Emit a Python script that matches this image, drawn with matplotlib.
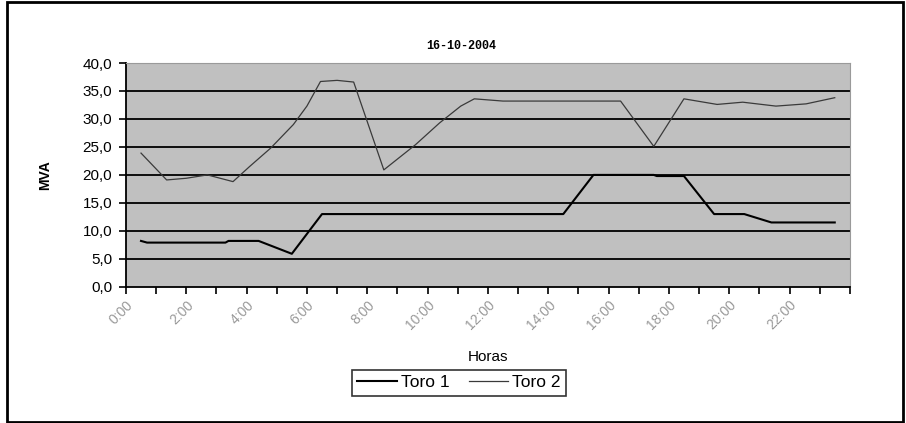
import matplotlib
matplotlib.use("Agg")
import matplotlib.pyplot as plt
from matplotlib.patches import Rectangle

plt.rcParams['font.family'] = ['Liberation Sans', 'DejaVu Sans']

# hours (category index, 0 = 0:00) and MVA values
toro1_h = [0, 0.2, 2.8, 2.9, 3.9, 5.0, 6.0, 14.0, 15.0, 17.0, 17.1, 18.0, 19.0, 20.0, 20.9, 23.0]
toro1_v = [8.2, 7.9, 7.9, 8.2, 8.2, 5.9, 13.0, 13.0, 20.0, 20.0, 19.8, 19.8, 13.0, 13.0, 11.5, 11.5]

toro2_h = [0, 0.85, 1.5, 2.2, 3.05, 3.6, 4.3, 5.05, 5.5, 5.95, 6.5, 7.05, 8.05, 9.1, 9.9,
           10.6, 11.05, 12.0, 15.9, 17.0, 18.0, 19.1, 19.95, 21.05, 22.05, 23.0]
toro2_v = [23.9, 19.1, 19.4, 20.0, 18.8, 21.5, 24.8, 29.0, 32.3, 36.7, 36.9, 36.6, 20.9, 25.4, 29.3,
           32.3, 33.6, 33.2, 33.2, 25.1, 33.6, 32.6, 33.0, 32.3, 32.7, 33.8]

n_hours = 24
hour_labels = ["%d:00" % h if h % 2 == 0 else "" for h in range(n_hours)]
y_ticks = [0, 5, 10, 15, 20, 25, 30, 35, 40]

fig = plt.figure(figsize=(9.06, 4.23), dpi=100)
ax = fig.add_axes([0.139, 0.322, 0.799, 0.529])
ax.set_facecolor('#c0c0c0')

for y in y_ticks[1:-1]:
    ax.axhline(y, color='black', lw=1.3, zorder=1)

ax.plot(toro1_h, toro1_v, color='black', lw=1.5, label='Toro 1', zorder=3)
ax.plot(toro2_h, toro2_v, color='#3a3a3a', lw=0.9, label='Toro 2', zorder=3)

ax.set_xlim(-0.5, n_hours - 0.5)
ax.set_ylim(0, 40)
ax.set_yticks(y_ticks)
ax.set_yticklabels([("%.1f" % v).replace('.', ',') for v in y_ticks])
ax.set_xticks([h - 0.5 for h in range(n_hours + 1)])
ax.set_xticklabels(hour_labels + [""], rotation=45, ha='right', va='top',
                   rotation_mode='anchor', color='#999999', fontsize=10)

ax.tick_params(axis='y', labelsize=11, length=5, width=1.2, direction='out', pad=5)
ax.tick_params(axis='x', length=5, width=1.2, direction='out', pad=3)
for s in ['top', 'right']:
    ax.spines[s].set_color('#9a9a9a')
for s in ['left', 'bottom']:
    ax.spines[s].set_color('black')
    ax.spines[s].set_linewidth(1.3)

ax.set_title("16-10-2004", fontsize=8.5, fontweight='bold', family='Liberation Mono',
             x=0.463, pad=10)
ax.set_ylabel("MVA", fontsize=10, fontweight='bold')
ax.yaxis.set_label_coords(-0.102, 0.5)
ax.set_xlabel("Horas", fontsize=11)
ax.xaxis.set_label_coords(0.5, -0.283)

leg = ax.legend(loc='upper center', bbox_to_anchor=(0.46, -0.372), ncol=2, frameon=True,
                fancybox=False, edgecolor='black', fontsize=12.5, handlelength=2.3,
                handletextpad=0.2, columnspacing=1.1, borderpad=0.3, borderaxespad=0)
leg.get_frame().set_linewidth(1.2)

fig.patches.append(Rectangle((7 / 906, 1 / 423), 896 / 906, 420 / 423, transform=fig.transFigure,
                             fill=False, edgecolor='black', lw=2))

fig.savefig('out.png', dpi=100)
